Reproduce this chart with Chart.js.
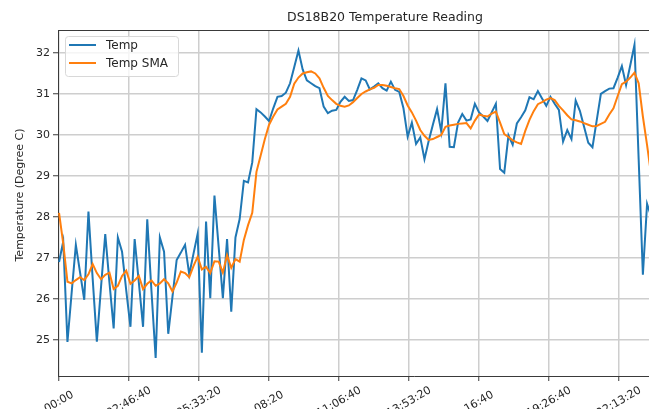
<!DOCTYPE html>
<html>
<head>
<meta charset="utf-8">
<script src="https://cdn.jsdelivr.net/npm/chart.js@4.4.1/dist/chart.umd.min.js"></script>
<style>
  html, body { margin: 0; padding: 0; overflow: hidden; background: #fff; }
  #wrap { width: 770px; height: 430px; }
</style>
</head>
<body>
<div id="wrap"><canvas id="tempChart" width="770" height="430"></canvas></div>
<script>
// readings every 10 minutes (sensor log)
const sampleSeconds = 600;

const temp = [
    26.9, 27.4, 24.95, 26.15, 27.32, 26.65, 25.98, 28.13, 26.5, 24.96,
    26.3, 27.58, 26.4, 25.28, 27.5, 27.15, 26.2, 25.32, 27.46, 26.4,
    25.32, 27.94, 26.2, 24.56, 27.5, 27.15, 25.15, 26.05, 26.95, 27.13,
    27.32, 26.6, 27.1, 27.59, 24.69, 27.89, 26.02, 28.52, 27.27, 26.02,
    27.46, 25.69, 27.5, 27.95, 28.88, 28.84, 29.33, 30.63, 30.55, 30.45,
    30.34, 30.65, 30.93, 30.95, 31.03, 31.26, 31.66, 32.06, 31.6, 31.33,
    31.26, 31.19, 31.14, 30.69, 30.53, 30.59, 30.61, 30.81, 30.93, 30.83,
    30.85, 31.1, 31.38, 31.33, 31.11, 31.18, 31.26, 31.14, 31.08, 31.3,
    31.1, 31.05, 30.65, 29.96, 30.3, 29.78, 29.94, 29.41, 29.85, 30.25,
    30.63, 30.08, 31.26, 29.71, 29.7, 30.3, 30.51, 30.35, 30.38, 30.76,
    30.55, 30.45, 30.34, 30.55, 30.76, 29.17, 29.08, 29.99, 29.76, 30.28,
    30.43, 30.6, 30.92, 30.87, 31.07, 30.89, 30.71, 30.93, 30.76, 30.61,
    29.84, 30.12, 29.9, 30.84, 30.59, 30.2, 29.81, 29.7, 30.35, 31.0,
    31.07, 31.13, 31.14, 31.4, 31.68, 31.22, 31.7, 32.2, 29.4, 26.59,
    28.32, 28.0
];

const tempSma = [
    28.1, 27.35, 26.42, 26.38, 26.46, 26.53, 26.46, 26.6, 26.85, 26.63,
    26.48, 26.59, 26.64, 26.24, 26.32, 26.56, 26.69, 26.37, 26.45, 26.56,
    26.24, 26.37, 26.45, 26.32, 26.38, 26.48, 26.38, 26.18, 26.4, 26.67,
    26.63, 26.53, 26.8, 27.03, 26.72, 26.78, 26.63, 26.92, 26.91, 26.64,
    27.07, 26.76, 26.97, 26.91, 27.44, 27.8, 28.1, 29.1, 29.5, 29.9,
    30.25, 30.45, 30.62, 30.69, 30.76, 30.93, 31.25, 31.4, 31.5, 31.53,
    31.55, 31.5, 31.38, 31.15, 30.95, 30.85, 30.76, 30.71, 30.69, 30.72,
    30.8, 30.9, 31.0, 31.06, 31.11, 31.15, 31.22, 31.22, 31.2, 31.17,
    31.14, 31.12, 30.95, 30.72, 30.55, 30.35, 30.12, 29.98, 29.88, 29.9,
    29.95, 30.0, 30.2, 30.23, 30.25, 30.27, 30.28, 30.29, 30.16, 30.35,
    30.5, 30.47, 30.45, 30.52, 30.57, 30.3, 30.02, 29.95, 29.87, 29.82,
    29.78, 30.1, 30.37, 30.58, 30.75, 30.8, 30.86, 30.9, 30.85, 30.71,
    30.6, 30.48, 30.38, 30.36, 30.33, 30.29, 30.25, 30.21, 30.22, 30.27,
    30.32, 30.5, 30.65, 30.95, 31.24, 31.3, 31.4, 31.52, 31.26, 30.45,
    29.75, 29.0
];

const xTickValues = [0, 10000, 20000, 30000, 40000, 50000, 60000, 70000, 80000];
const xTickLabels = ['00:00', '02:46:40', '05:33:20', '08:20', '11:06:40', '13:53:20', '16:40', '19:26:40', '22:13:20'];
const yTickValues = [25, 26, 27, 28, 29, 30, 31, 32];

const FONT = "'DejaVu Sans', sans-serif";
const TEXT_COLOR = '#262626';
const GRID_COLOR = '#cecece';
const AXIS_COLOR = '#3a3a3a';

const toPoints = arr => arr.map((v, i) => ({ x: i * sampleSeconds, y: v }));

// 目盛ラベル・軸タイトル・凡例を matplotlib 風に描く
const decorations = {
    id: 'decorations',
    afterDraw(chart) {
        const ctx = chart.ctx;
        const area = chart.chartArea;
        const xScale = chart.scales.x;
        ctx.save();

        // top spine
        ctx.strokeStyle = AXIS_COLOR;
        ctx.lineWidth = 1;
        ctx.beginPath();
        ctx.moveTo(area.left, area.top + 0.5);
        ctx.lineTo(area.right, area.top + 0.5);
        ctx.stroke();

        // x tick labels, rotated 30deg and centred on the tick
        ctx.font = '11px ' + FONT;
        ctx.fillStyle = TEXT_COLOR;
        ctx.textAlign = 'center';
        ctx.textBaseline = 'middle';
        xTickValues.forEach((v, i) => {
            const x = xScale.getPixelForValue(v);
            ctx.save();
            ctx.translate(x, area.bottom + 26);
            ctx.rotate(-Math.PI / 6);
            ctx.fillText(xTickLabels[i], 0, 0);
            ctx.restore();
        });

        // y axis title
        ctx.save();
        ctx.translate(20, 195);
        ctx.rotate(-Math.PI / 2);
        ctx.fillText('Temperature (Degree C)', 0, 0);
        ctx.restore();

        // legend box
        const lx = area.left + 7, ly = area.top + 6, lw = 113, lh = 40;
        ctx.beginPath();
        ctx.roundRect(lx + 0.5, ly + 0.5, lw, lh, 3);
        ctx.fillStyle = 'rgba(255,255,255,0.8)';
        ctx.fill();
        ctx.strokeStyle = '#d8d8d8';
        ctx.stroke();

        ctx.font = '12px ' + FONT;
        ctx.textAlign = 'left';
        chart.data.datasets.forEach((ds, i) => {
            const y = ly + 9 + i * 18;
            ctx.strokeStyle = ds.borderColor;
            ctx.lineWidth = 2;
            ctx.beginPath();
            ctx.moveTo(lx + 4, y);
            ctx.lineTo(lx + 31, y);
            ctx.stroke();
            ctx.fillStyle = TEXT_COLOR;
            ctx.fillText(ds.label, lx + 41, y + 1);
        });

        ctx.restore();
    }
};

const ctx = document.getElementById('tempChart').getContext('2d');
const tempChart = new Chart(ctx, {
    type: 'line',
    data: {
        datasets: [{
            label: 'Temp',
            data: toPoints(temp),
            borderColor: '#1f77b4',
            borderWidth: 2,
            pointRadius: 0,
            tension: 0,
            order: 1
        }, {
            label: 'Temp SMA',
            data: toPoints(tempSma),
            borderColor: '#ff7f0e',
            borderWidth: 2,
            pointRadius: 0,
            tension: 0,
            order: 0
        }]
    },
    options: {
        responsive: false,
        animation: false,
        events: [],
        layout: { padding: 0 },
        plugins: {
            legend: { display: false },
            tooltip: { enabled: false },
            title: {
                display: true,
                text: 'DS18B20 Temperature Reading',
                color: TEXT_COLOR,
                font: { family: FONT, size: 12.5, weight: 'normal' },
                padding: { top: 10, bottom: 5 }
            }
        },
        scales: {
            x: {
                type: 'linear',
                min: -150,
                max: 101560,
                afterBuildTicks: scale => {
                    scale.ticks = xTickValues.map(v => ({ value: v }));
                },
                afterFit: scale => { scale.height = 54; },
                ticks: { display: false },
                grid: {
                    color: GRID_COLOR,
                    lineWidth: 1.5,
                    tickLength: 5,
                    tickColor: AXIS_COLOR,
                    tickWidth: 1
                },
                border: { color: AXIS_COLOR, width: 1 }
            },
            y: {
                min: 24.12,
                max: 32.56,
                afterBuildTicks: scale => {
                    scale.ticks = yTickValues.map(v => ({ value: v }));
                },
                afterFit: scale => { scale.width = 58; },
                ticks: {
                    color: TEXT_COLOR,
                    font: { family: FONT, size: 11 },
                    padding: 3
                },
                grid: {
                    color: GRID_COLOR,
                    lineWidth: 1.5,
                    tickLength: 5,
                    tickColor: AXIS_COLOR,
                    tickWidth: 1
                },
                border: { color: AXIS_COLOR, width: 1 }
            }
        }
    },
    plugins: [decorations]
});
</script>
</body>
</html>
